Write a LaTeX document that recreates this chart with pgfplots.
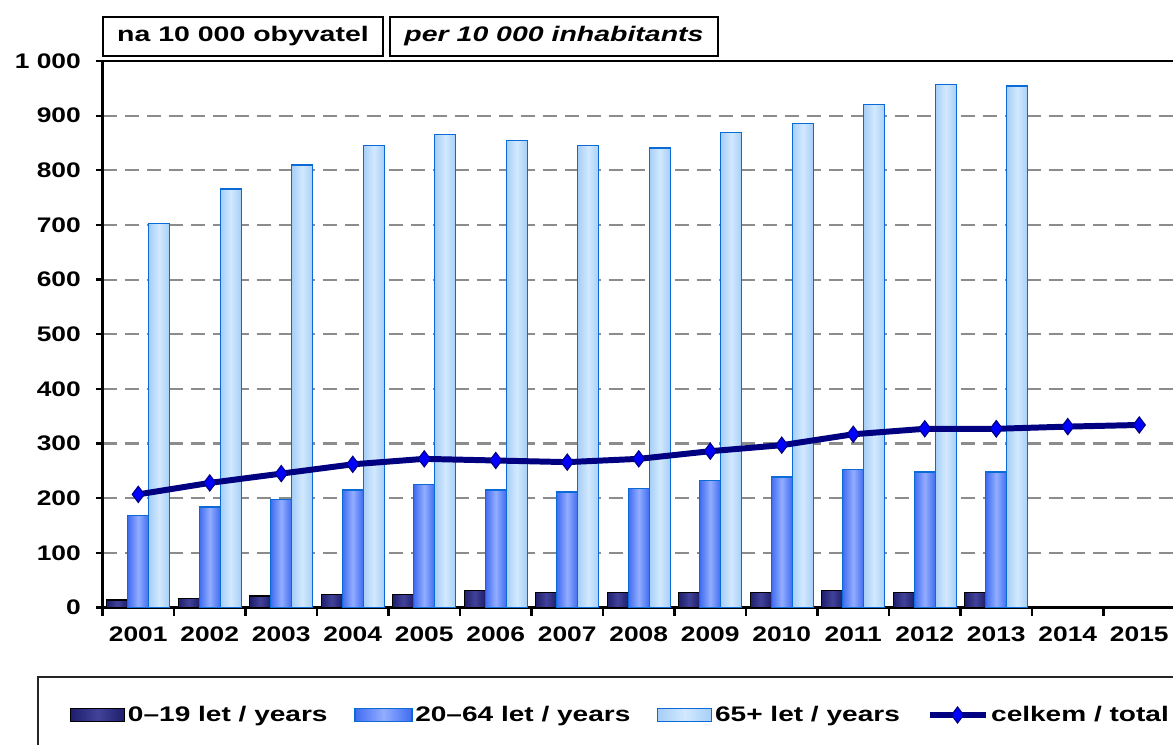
\documentclass[border=0pt]{standalone}
\usepackage{fontspec}
\setmainfont{Liberation Sans}[FakeStretch=1.25]
\newfontfamily\widefont{Liberation Sans}[FakeStretch=1.35]
\newfontfamily\legendfont{Liberation Sans}[FakeStretch=1.33]
\usepackage{pgfplots}
\pgfplotsset{compat=1.18}
\definecolor{kidbar}{HTML}{42429A}
\definecolor{kiddark}{HTML}{1E1E6C}
\definecolor{adultbar}{HTML}{93ADFF}
\definecolor{adultdark}{HTML}{3F6CF0}
\definecolor{oldbar}{HTML}{D2E9FF}
\definecolor{olddark}{HTML}{A6CEF6}
\definecolor{barline}{HTML}{0A6AD6}
\definecolor{totalline}{HTML}{000080}
\definecolor{totalmark}{HTML}{0000FF}
\definecolor{gridgray}{HTML}{8C8C8C}

\pgfplotsset{
  kidbars/.style={ybar, bar width=0.294, bar shift=-0.294, draw=black, line width=0.8pt,
    left color=kiddark, right color=kiddark, middle color=kidbar},
  adultbars/.style={ybar, bar width=0.294, bar shift=0, draw=barline, line width=0.8pt,
    left color=adultdark, right color=adultdark, middle color=adultbar},
  oldbars/.style={ybar, bar width=0.294, bar shift=0.294, draw=barline, line width=0.8pt,
    left color=olddark, right color=olddark, middle color=oldbar},
  totalstyle/.style={totalline, line width=3.4pt, mark=diamond*, mark size=4.6pt,
    mark options={fill=totalmark, draw=totalline, line width=0.6pt}},
  kidpatch/.style={legend image code/.code={\draw[##1] (0cm,-0.13cm) rectangle (1.08cm,0.13cm);}},
  adultpatch/.style={legend image code/.code={\draw[##1] (0cm,-0.13cm) rectangle (1.14cm,0.13cm);}},
  oldpatch/.style={legend image code/.code={\draw[##1] (0cm,-0.13cm) rectangle (1.08cm,0.13cm);}},
  totalpatch/.style={legend image code/.code={\draw[mark repeat=2, mark phase=2, ##1] plot coordinates {(0cm,0cm) (0.56cm,0cm) (1.12cm,0cm)};}},
}

\pgfplotstableread{
x kids adults old total
0  14 168 703 207
1  17 184 766 228
2  21 198 810 245
3  24 215 845 262
4  24 225 865 272
5  31 215 855 269
6  27 211 845 266
7  27 218 841 272
8  27 232 869 286
9  27 239 886 297
10 31 252 920 317
11 27 248 957 327
12 27 248 954 327
}\agedata

\begin{document}
\begin{tikzpicture}
% labels above the plot
\draw[line width=1.4pt] (2.06,-0.34) rectangle (7.66,-1.12);
\node[font=\widefont\bfseries\fontsize{12}{14}\selectfont] at (4.86,-0.73) {na 10 000 obyvatel};
\draw[line width=1.4pt] (7.80,-0.34) rectangle (14.36,-1.12);
\node[font=\widefont\bfseries\itshape\fontsize{12}{14}\selectfont] at (11.08,-0.73) {per 10 000 inhabitants};
% legend frame
\draw[line width=1.4pt, black!85] (0.76,-13.54) rectangle (24.5,-15.6);

\begin{axis}[
  at={(2.05cm,-12.15cm)}, anchor=south west,
  scale only axis, width=21.45cm, height=10.93cm,
  xmin=-0.5, xmax=14.5, ymin=0, ymax=1000,
  axis line style={black, line width=1.3pt},
  xtick={0,...,14},
  xticklabels={2001,2002,2003,2004,2005,2006,2007,2008,2009,2010,2011,2012,2013,2014,2015},
  major x tick style={draw=none},
  minor xtick={-0.5,0.5,...,14.5},
  minor x tick style={black, line width=1.3pt},
  minor tick length=0.16cm,
  ytick={0,100,...,1000},
  yticklabels={0,100,200,300,400,500,600,700,800,900,1 000},
  y tick style={black, line width=1.3pt},
  major tick length=0.14cm,
  tick align=outside,
  xtick pos=bottom, ytick pos=left,
  ymajorgrids,
  major grid style={gridgray, line width=1.2pt, dash pattern=on 0.28cm off 0.16cm},
  ticklabel style={font=\bfseries\fontsize{12}{14}\selectfont},
  xticklabel style={yshift=-0.12cm},
  yticklabel style={xshift=-0.17cm},
  legend style={draw=none, fill=none, at={(-0.0356,-0.1967)}, anchor=west,
    font=\legendfont\bfseries\fontsize{12}{14}\selectfont, legend columns=4,
    nodes={inner xsep=1.5pt, inner ysep=2pt},
    /tikz/every even column/.append style={column sep=0.48cm}},
  legend cell align=left,
]
% one plot per bar, so that each bar gets its own shading
\pgfplotsinvokeforeach{0,...,12}{
  \pgfplotstablegetelem{#1}{kids}\of\agedata
  \edef\barcmd{\noexpand\addplot[kidbars, forget plot] coordinates {(#1,\pgfplotsretval)};}\barcmd
  \pgfplotstablegetelem{#1}{adults}\of\agedata
  \edef\barcmd{\noexpand\addplot[adultbars, forget plot] coordinates {(#1,\pgfplotsretval)};}\barcmd
  \pgfplotstablegetelem{#1}{old}\of\agedata
  \edef\barcmd{\noexpand\addplot[oldbars, forget plot] coordinates {(#1,\pgfplotsretval)};}\barcmd
}
\addlegendimage{kidbars, kidpatch}
\addlegendentry{0–19 let / years}
\addlegendimage{adultbars, adultpatch}
\addlegendentry{20–64 let / years}
\addlegendimage{oldbars, oldpatch}
\addlegendentry{65+ let / years}
\addplot[totalstyle, totalpatch] table[x=x, y=total] {\agedata};
\addlegendentry{celkem / total}
\addplot[totalstyle, forget plot] coordinates {(12,327) (13,331) (14,334)};
\end{axis}
\pgfresetboundingbox
\useasboundingbox (0,0) rectangle (23.46,-14.9);
\end{tikzpicture}
\end{document}
